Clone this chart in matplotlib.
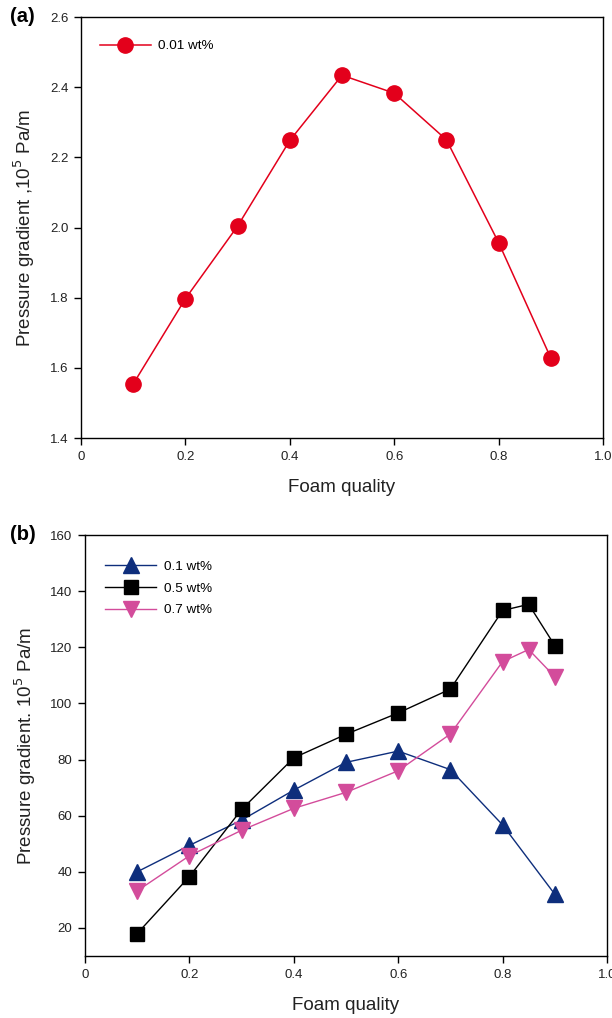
import matplotlib
matplotlib.use("Agg")
import matplotlib.pyplot as plt

plt.rcParams['font.family'] = ['Liberation Sans', 'DejaVu Sans']

# Panel (a)
xa = [0.1, 0.2, 0.3, 0.4, 0.5, 0.6, 0.7, 0.8, 0.9]
ya = [1.554, 1.797, 2.004, 2.248, 2.434, 2.383, 2.250, 1.957, 1.628]
label_a = "0.01 wt%"

# Panel (b)
x01 = [0.1, 0.2, 0.3, 0.4, 0.5, 0.6, 0.7, 0.8, 0.9]
y01 = [40.0, 49.4, 58.4, 69.1, 79.0, 83.0, 76.4, 56.7, 32.0]
x05 = [0.1, 0.2, 0.3, 0.4, 0.5, 0.6, 0.7, 0.8, 0.85, 0.9]
y05 = [18.0, 38.3, 62.2, 80.6, 89.0, 96.6, 105.1, 133.1, 135.3, 120.6]
x07 = [0.1, 0.2, 0.3, 0.4, 0.5, 0.6, 0.7, 0.8, 0.85, 0.9]
y07 = [33.2, 45.7, 54.8, 62.6, 68.3, 76.0, 89.1, 114.9, 119.2, 109.5]
labels_b = ["0.1 wt%", "0.5 wt%", "0.7 wt%"]

xticks = [0, 0.2, 0.4, 0.6, 0.8, 1.0]
xticklabels = ["0", "0.2", "0.4", "0.6", "0.8", "1.0"]
yticks_a = [1.4, 1.6, 1.8, 2.0, 2.2, 2.4, 2.6]
yticks_b = [20, 40, 60, 80, 100, 120, 140, 160]

W, H = 612, 1018
fig = plt.figure(figsize=(W / 100, H / 100), dpi=100)
TXT = '#222222'

def style(ax):
    for s in ax.spines.values():
        s.set_linewidth(1.0)
        s.set_color('black')
    ax.tick_params(direction='out', length=5, width=1, labelsize=9.5, pad=4,
                   color='black', labelcolor=TXT)
    ax.set_xticks(xticks)
    ax.set_xticklabels(xticklabels)
    ax.set_xlim(0, 1.0)

ax1 = fig.add_axes([81 / W, 1 - 438 / H, 522 / W, 421 / H])
ax1.plot(xa, ya, color='#e3001b', lw=1.1, marker='o', ms=11,
         markerfacecolor='#e3001b', markeredgecolor='#e3001b', label=label_a)
style(ax1)
ax1.set_ylim(1.4, 2.6)
ax1.set_yticks(yticks_a)
ax1.set_yticklabels([f"{v:.1f}" for v in yticks_a])
ax1.set_xlabel("Foam quality", fontsize=13.5, labelpad=12, color=TXT)
ax1.set_ylabel("Pressure gradient ,10$^5$ Pa/m", fontsize=13.5, labelpad=9, color=TXT)
ax1.legend(loc='upper left', frameon=False, fontsize=9.7, handlelength=3.8,
           bbox_to_anchor=(0.0, 1.0 - 4 / 421), borderaxespad=1.0, handletextpad=0.55)
fig.text(10 / W, 1 - 17 / H, "(a)", fontsize=14.5, fontweight='bold', ha='left', va='center')

ax2 = fig.add_axes([85 / W, 1 - 956 / H, 522 / W, 421 / H])
ax2.plot(x01, y01, color='#0e2e7c', lw=1.0, marker='^', ms=11,
         markerfacecolor='#0e2e7c', markeredgecolor='#0e2e7c', label=labels_b[0])
ax2.plot(x05, y05, color='black', lw=1.0, marker='s', ms=9.5,
         markerfacecolor='black', markeredgecolor='black', label=labels_b[1])
ax2.plot(x07, y07, color='#d34c9b', lw=1.0, marker='v', ms=11,
         markerfacecolor='#d34c9b', markeredgecolor='#d34c9b', label=labels_b[2])
style(ax2)
ax2.set_ylim(10, 160)
ax2.set_yticks(yticks_b)
ax2.set_xlabel("Foam quality", fontsize=13.5, labelpad=12, color=TXT)
ax2.set_ylabel("Pressure gradient. 10$^5$ Pa/m", fontsize=13.5, labelpad=9, color=TXT)
ax2.legend(loc='upper left', frameon=False, fontsize=9.7, handlelength=3.8,
           bbox_to_anchor=(0.0, 1.0 - 5 / 421), borderaxespad=1.1, handletextpad=0.55,
           labelspacing=0.7)
fig.text(10 / W, 1 - 535 / H, "(b)", fontsize=14.5, fontweight='bold', ha='left', va='center')

fig.savefig("out.png", dpi=100)
